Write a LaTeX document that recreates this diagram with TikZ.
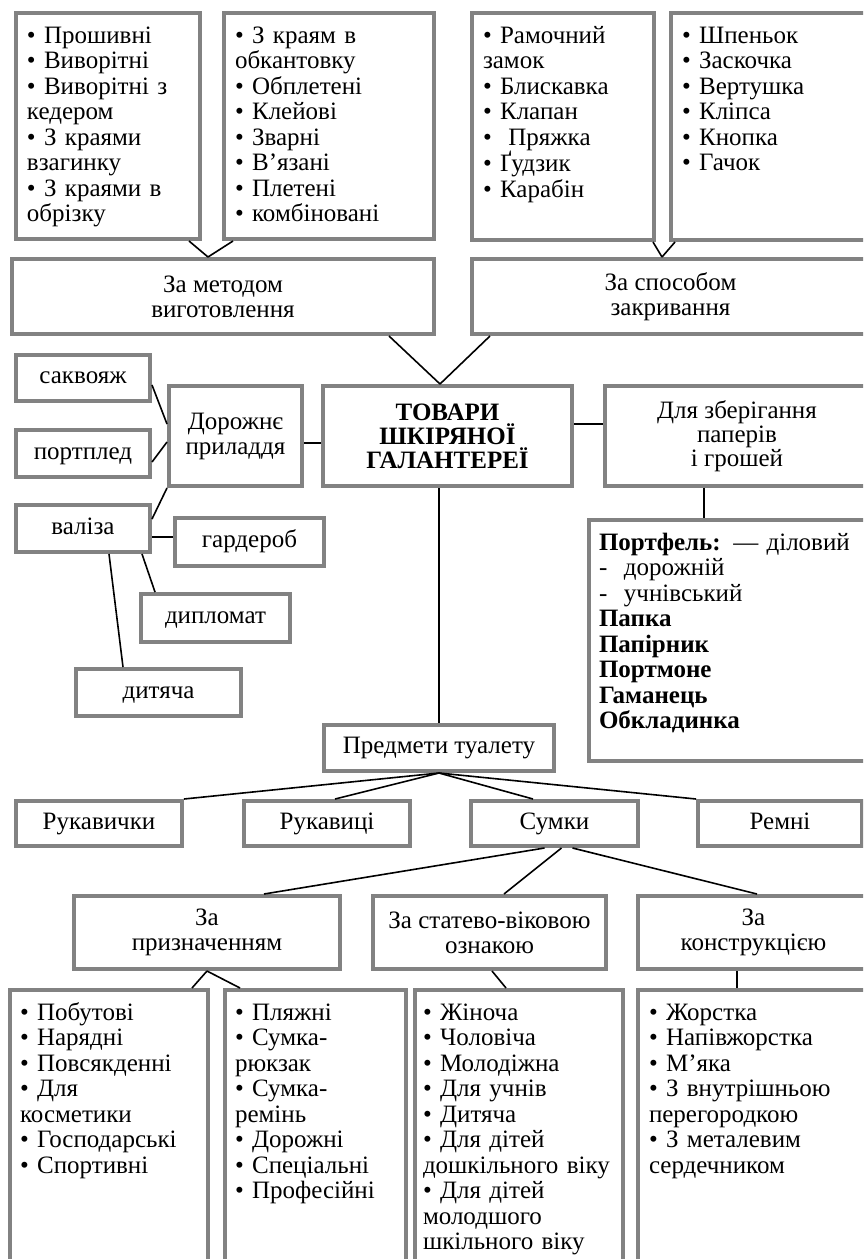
\documentclass[tikz,border=0pt]{standalone}
\usepackage{fontspec}
\setmainfont{Liberation Serif}
\usepackage{tikz}
\usetikzlibrary{positioning}
\definecolor{framegray}{RGB}{130,130,130}
\tikzset{
  galbox/.style   = {rectangle, draw=framegray, line width=4pt, fill=white,
                     align=center, inner sep=0pt, anchor=north west,
                     font=\fontsize{25pt}{25pt}\selectfont},
  galone/.style   = {galbox, text height=17pt, text depth=6pt},
  galtitle/.style = {galbox, font=\fontsize{25pt}{24pt}\selectfont\bfseries},
  gallist/.style  = {rectangle, draw=framegray, line width=4pt, fill=white,
                     align=left, anchor=north west, inner xsep=11pt, inner ysep=0pt,
                     text height=30pt, font=\fontsize{25pt}{25.5pt}\selectfont},
  galline/.style  = {draw=black, line width=1.6pt},
}

\begin{document}
\begin{tikzpicture}[x=1pt, y=-1pt]
  \useasboundingbox (0,0) rectangle (863,1259);
  \clip (0,0) rectangle (863,1259);

  % seams and fasteners
  \node[gallist, text width=162pt, text depth=196pt] (mA) at (14,11)
    {• Прошивні\\• Виворітні\\• Виворітні з\\кедером\\• З краями\\взагинку\\• З краями в\\обрізку};
  \node[gallist, text width=188pt, text depth=196pt] (mB) at (222,11)
    {• З краям в\\обкантовку\\• Обплетені\\• Клейові\\• Зварні\\• В’язані\\• Плетені\\• комбіновані};
  \node[gallist, text width=160pt, text depth=197pt] (cC) at (470,11)
    {• Рамочний\\замок\\• Блискавка\\• Клапан\\•\ \ Пряжка\\• Ґудзик\\• Карабін};
  \node[gallist, text width=176pt, text depth=197pt] (cD) at (669,11)
    {• Шпеньок\\• Заскочка\\• Вертушка\\• Кліпса\\• Кнопка\\• Гачок};
  \node[galbox, minimum width=422pt, minimum height=75pt] (method) at (10,257) {За методом\\виготовлення};
  \node[galbox, minimum width=397pt, minimum height=75pt] (closing) at (470,257) {За способом\\закривання};

  % centre row
  \node[galone, minimum width=134pt, minimum height=46pt] (sakv) at (14,353) {саквояж};
  \node[galone, minimum width=134pt, minimum height=47pt] (portpl) at (14,428) {портплед};
  \node[galbox, minimum width=133pt, minimum height=100pt] (travel) at (167,384) {Дорожнє\\приладдя};
  \node[galtitle, minimum width=249pt, minimum height=100pt] (main) at (321,384) {ТОВАРИ\\ШКІРЯНОЇ\\ГАЛАНТЕРЕЇ};
  \node[galbox, minimum width=264pt, minimum height=100pt, font=\fontsize{25pt}{24pt}\selectfont] (store) at (603,384) {Для зберігання\\паперів\\і грошей};
  \node[galone, minimum width=134pt, minimum height=47pt] (valiza) at (14,503) {валіза};
  \node[galone, minimum width=149pt, minimum height=48pt] (garder) at (173,516) {гардероб};
  \node[galone, minimum width=149pt, minimum height=48pt] (diplom) at (139,592) {дипломат};
  \node[galone, minimum width=165pt, minimum height=47pt] (kids) at (74,667) {дитяча};
  \node[gallist, inner xsep=10pt, text width=260pt, text depth=211pt] (purse) at (587,518)
    {\mbox{\textbf{Портфель:} — діловий}\\-\ \ дорожній\\-\ \ учнівський\\\textbf{Папка}\\\textbf{Папірник}\\\textbf{Портмоне}\\\textbf{Гаманець}\\\textbf{Обкладинка}};

  % toilet goods and bags
  \node[galone, minimum width=230pt, minimum height=46pt] (toilet) at (322,723) {Предмети туалету};
  \node[galone, minimum width=166pt, minimum height=45pt] (gloves) at (14,799) {Рукавички};
  \node[galone, minimum width=166pt, minimum height=45pt] (mittens) at (242,799) {Рукавиці};
  \node[galone, minimum width=167pt, minimum height=45pt] (bags) at (469,799) {Сумки};
  \node[galone, minimum width=164pt, minimum height=45pt] (belts) at (696,799) {Ремні};
  \node[galbox, minimum width=266pt, minimum height=73pt] (purpose) at (72,894) {За\\призначенням};
  \node[galbox, minimum width=233pt, minimum height=73pt] (sexage) at (371,894) {За статево-віковою\\ознакою};
  \node[galbox, minimum width=231pt, minimum height=73pt] (constr) at (636,894) {За\\конструкцією};
  \node[gallist, inner xsep=10pt, text width=178pt, text depth=300pt] (pA) at (8,988)
    {• Побутові\\• Нарядні\\• Повсякденні\\• Для\\косметики\\• Господарські\\• Спортивні};
  \node[gallist, inner xsep=10pt, text width=161pt, text depth=300pt] (pB) at (223,988)
    {• Пляжні\\• Сумка-\\рюкзак\\• Сумка-\\ремінь\\• Дорожні\\• Спеціальні\\• Професійні};
  \node[gallist, inner xsep=8pt, text width=192pt, text depth=300pt] (sA) at (413,988)
    {• Жіноча\\• Чоловіча\\• Молодіжна\\• Для учнів\\• Дитяча\\• Для дітей\\\mbox{дошкільного віку}\\• Для дітей\\молодшого\\\mbox{шкільного віку}};
  \node[gallist, inner xsep=11pt, text width=209pt, text depth=300pt] (kA) at (636,988)
    {• Жорстка\\• Напівжорстка\\• М’яка\\• З внутрішньою\\перегородкою\\• З металевим\\сердечником};

  % links
  \draw[galline] ([xshift=-13pt]mA.south east) -- ([xshift=-15pt]method.north);
  \draw[galline] ([xshift=11pt]mB.south west) -- ([xshift=-15pt]method.north);
  \draw[galline] ([xshift=-3pt]cC.south east) -- ([xshift=-8.5pt]closing.north);
  \draw[galline] ([xshift=6pt]cD.south west) -- ([xshift=-8.5pt]closing.north);
  \draw[galline] ([xshift=-47pt]method.south east) -- ([xshift=-7.5pt]main.north);
  \draw[galline] ([xshift=20pt]closing.south west) -- ([xshift=-7.5pt]main.north);
  \draw[galline] ([yshift=-7pt]travel.east) -- ([yshift=-7pt]main.west);
  \draw[galline] ([yshift=12pt]main.east) -- ([yshift=12pt]store.west);
  \draw[galline] ([xshift=-33pt]store.south) -- ([xshift=-25pt]purse.north);
  \draw[galline] ([yshift=-7pt]sakv.east) -- ([yshift=12pt]travel.west);
  \draw[galline] ([yshift=-8.5pt]portpl.east) -- ([yshift=-6pt]travel.west);
  \draw[galline] ([yshift=9.5pt]valiza.east) -- (travel.south west);
  \draw[galline] ([yshift=-8.5pt]valiza.east) -- ([yshift=5pt]garder.west);
  \draw[galline] ([xshift=-10pt]valiza.south east) -- ([xshift=16pt]diplom.north west);
  \draw[galline] ([xshift=26pt]valiza.south) -- ([xshift=49pt]kids.north west);
  \draw[galline] ([xshift=-8.5pt]main.south) -- (toilet.north);
  \draw[galline] (toilet.south) -- (gloves.north east);
  \draw[galline] (toilet.south) -- ([xshift=8pt]mittens.north);
  \draw[galline] (toilet.south) -- ([xshift=-21.5pt]bags.north);
  \draw[galline] (toilet.south) -- (belts.north west);
  \draw[galline] ([xshift=-10pt]bags.south) -- ([xshift=57pt]purpose.north);
  \draw[galline] ([xshift=7pt]bags.south) -- ([xshift=14.5pt]sexage.north);
  \draw[galline] ([xshift=18pt]bags.south) -- ([xshift=3.5pt]constr.north);
  \draw[galline] (purpose.south) -- ([xshift=-18pt]pA.north east);
  \draw[galline] (purpose.south) -- ([xshift=17pt]pB.north west);
  \draw[galline] ([xshift=2.5pt]sexage.south) -- ([xshift=-13pt]sA.north);
  \draw[galline] ([xshift=-16.5pt]constr.south) -- ([xshift=-16.5pt]kA.north);
\end{tikzpicture}
\end{document}
